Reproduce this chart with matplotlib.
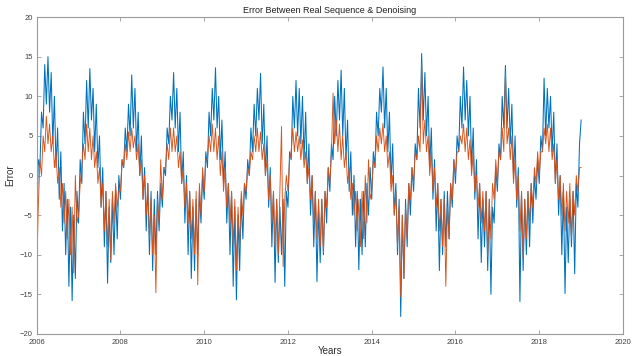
import numpy as np
import matplotlib
matplotlib.use('Agg')
from matplotlib import pyplot as plt

plt.rcParams['font.family'] = ['Liberation Sans', 'DejaVu Sans']

# biweekly readings (26 per year), real-sequence error
blue_2006 = [-8, 2, 1, 8, 6, 14, 9, 15, 8, 13, 4, 10, 1, 6, -3, 3, -7, -1, -10, -3, -14, -4, -15.8, -5, -13, -2]
blue_2007 = [-6, 2, -1, 8, 4, 12, 6, 13.5, 7, 11, 3, 9, 1, 5, -4, 1, -9, -2, -13.6, -4, -11, -3, -10, -2, -8, 0]
blue_2008 = [-3, 2, 1, 6, 3, 9, 5, 12.7, 6, 11, 3, 8, 0, 5, -3, 1, -7, -1, -10, -2, -12, -3, -10, -2, -7, -1]
blue_2009 = [-4, 1, 0, 6, 4, 10, 7, 13, 6, 11, 3, 8, -1, 3, -6, 0, -10, -2, -13, -4, -12, -3, -10, -2, -6, 0]
blue_2010 = [-3, 3, 1, 8, 5, 11, 7, 13.6, 6, 10, 2, 7, -1, 3, -6, -1, -10, -2, -14, -4, -15.7, -5, -12, -3, -8, -1]
blue_2011 = [-3, 2, 0, 6, 3, 9, 5, 11, 7, 12.9, 4, 9, 0, 5, -4, 1, -9, -2, -13.5, -3, -11, -4, -10, -3, -14, -2]
blue_2012 = [-4, 3, 2, 10, 6, 12, 5, 11, 4, 10, 2, 8, -1, 4, -5, 0, -9, -2, -13.4, -4, -11, -3, -10, -2, -6, 1]
blue_2013 = [-2, 4, 2, 10, 5, 12, 7, 13.3, 5, 11, 2, 7, -2, 3, -5, 0, -9, -2, -11.9, -3, -10, -2, -9, -1, -5, 1]
blue_2014 = [-3, 3, 1, 8, 5, 11, 8, 13.7, 6, 11, 3, 8, -1, 4, -5, -1, -10, -3, -17.8, -5, -13, -3, -9, -1, -5, 1]
blue_2015 = [-2, 4, 2, 11, 6, 15.4, 7, 13, 5, 10, 1, 6, -3, 2, -7, -1, -12, -3, -10, -2, -9, -2, -8, -1, -4, 2]
blue_2016 = [-1, 5, 3, 10, 6, 13.7, 7, 12, 5, 10, 1, 6, -3, 2, -8, -1, -11, -3, -9, -2, -12, -3, -15, -4, -6, 1]
blue_2017 = [-2, 4, 2, 10, 6, 13.9, 6, 11, 4, 9, 0, 5, -4, 1, -15.9, -2, -12, -3, -10, -2, -9, -1, -6, 0, -3, 2]
blue_2018 = [-1, 5, 3, 12.3, 5, 11, 6, 10, 3, 8, -1, 4, -5, 0, -10, -2, -14.9, -4, -11, -3, -9, -2, -12.4, -1, -4, 4, 7]

# denoised sequence error
orange_2006 = [-12.5, -4, 2, 0, 5, 3, 7.5, 4, 6.5, 3, 5, 1, 3, -1, 1, -4, -1, -6, -2, -8, -3, -10, -4, -12.3, 0, -6]
orange_2007 = [-5, -1, 1, 4, 2, 6.5, 3, 6, 2, 5, 1, 3, -1, 1, -4, -1, -7, -2, -9, -3, -10.7, -2, -6, -1, -4, -2]
orange_2008 = [-2, 2, 1, 4, 2, 5.5, 3, 6, 3.5, 5, 2, 4, 0, 2, -3, 0, -5, -1, -8, -3, -10, -5, -14.8, -3, -6, 2]
orange_2009 = [-3, 1, 1, 4, 2, 6, 3, 6, 3, 5, 1, 3, -1, 1, -4, -1, -6, -2, -8, -3, -10, -2, -13.8, -1, -5, 1]
orange_2010 = [-2, 2, 2, 5, 3, 6.5, 3, 6, 2, 5, 0, 3, -2, 1, -4, -1, -6, -2, -9, -3, -12, -4, -9, -2, -5, -1]
orange_2011 = [-2, 1, 0, 3, 2, 5, 3, 6, 3, 5.5, 2, 4, 0, 2, -3, 0, -6, -2, -9, -3, -10, -2, 6.2, -11.5, -3, 0]
orange_2012 = [-2, 2, 3, 6, 3, 5.5, 3, 5, 2, 4.5, 1, 3, -1, 1, -3, 0, -6, -2, -8, -3, -9, -3, -9.8, -2, -4, 1]
orange_2013 = [-1, 3, 10.4, 4, 7, 3, 6.5, 2, 5, 1, 3, -1, 1, -3, -1, -5, -2, -7, -3, -9, -2, -8, 0, -6, 2, -3]
orange_2014 = [-2, 2, 1, 5, 3, 6, 4, 6.6, 3, 5, 1, 3, -2, 0, -5, -2, -9, -4, -15.3, -5, -13, -4, -8, -1, -3, 1]
orange_2015 = [-1, 3, 2, 5, 3, 14.2, 4, 7, 3, 5, 0, 3, -2, 1, -4, -1, -7, -3, -9, -3, -14, -4, -8, -1, -3, 2]
orange_2016 = [0, 3, 3, 5, 4, 6.5, 3, 6, 2, 4.5, 0, 3, -2, 0, -4, -1, -6, -2, -7, -2, -10.2, -3, -8, -1, -3, 2]
orange_2017 = [-1, 3, 2, 6, 3, 12.9, 4, 6, 2, 5, -1, 2, -3, 0, -7, -2, -10.5, -3, -8, -2, -6, -1, -4, 1, -1, 3]
orange_2018 = [0, 3, 3, 6, 4, 6.5, 3, 6, 2, 4, -1, 2, -3, 0, -5, -1, -7, -2, -6, -1, -8, -2, -5, 0, -2, 1, 1]

real_err = np.concatenate([blue_2006, blue_2007, blue_2008, blue_2009, blue_2010, blue_2011, blue_2012,
                           blue_2013, blue_2014, blue_2015, blue_2016, blue_2017, blue_2018])
denoised_err = np.concatenate([orange_2006, orange_2007, orange_2008, orange_2009, orange_2010, orange_2011,
                               orange_2012, orange_2013, orange_2014, orange_2015, orange_2016, orange_2017,
                               orange_2018])
years = 2006 + np.arange(len(real_err)) / 26

fig = plt.figure(figsize=(6.38, 3.56), dpi=100)
ax = fig.add_axes([0.0575, 0.062, 0.919, 0.890])

ax.plot(years, real_err, color='#0072BD', linewidth=0.75)
ax.plot(years, denoised_err, color='#D95319', linewidth=0.65)

ax.set_xlim(2006, 2020)
ax.set_ylim(-20, 20)
ax.set_xticks(range(2006, 2021, 2))
ax.set_yticks(range(-20, 21, 5))
ax.tick_params(direction='in', length=3, width=0.6, colors='#9a9a9a', labelcolor='#404040',
               labelsize=5.5, top=True, right=True)
ax.tick_params(axis='x', pad=3.5)
ax.tick_params(axis='y', pad=3)
for s in ax.spines.values():
    s.set_color('#9a9a9a')
    s.set_linewidth(0.8)

ax.set_title('Error Between Real Sequence & Denoising', fontsize=6.5, color='#202020', pad=3)
ax.set_xlabel('Years', fontsize=7, color='#303030', labelpad=0)
ax.set_ylabel('Error', fontsize=7, color='#303030', labelpad=3)

fig.savefig('out.png', dpi=100)
